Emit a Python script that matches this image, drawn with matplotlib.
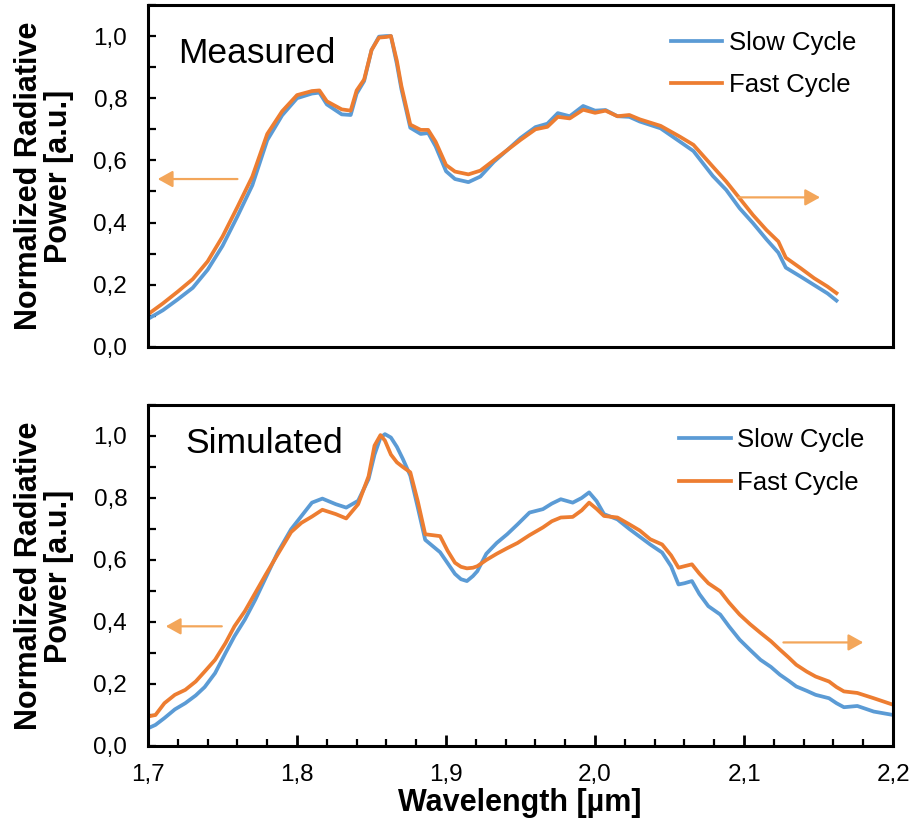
import numpy as np
import matplotlib
matplotlib.use('Agg')
import matplotlib.pyplot as plt
from matplotlib.ticker import MultipleLocator, FuncFormatter

plt.rcParams['font.family'] = ['Liberation Sans', 'DejaVu Sans']

# measured spectra
wl_meas = [1.700, 1.710, 1.720, 1.730, 1.740, 1.750, 1.760, 1.770, 1.780, 1.790,
           1.800, 1.810, 1.815, 1.820, 1.830, 1.836, 1.840, 1.845, 1.850, 1.855,
           1.860, 1.863, 1.867, 1.870, 1.876, 1.883, 1.888, 1.893, 1.900, 1.906,
           1.915, 1.923, 1.932, 1.941, 1.950, 1.960, 1.968, 1.975, 1.983, 1.992,
           2.000, 2.007, 2.015, 2.023, 2.030, 2.044, 2.057, 2.066, 2.079, 2.088,
           2.097, 2.106, 2.115, 2.123, 2.128, 2.138, 2.147, 2.156, 2.162]
meas_slow = [0.090, 0.118, 0.153, 0.190, 0.248, 0.325, 0.420, 0.520, 0.665, 0.745,
             0.800, 0.815, 0.818, 0.780, 0.748, 0.746, 0.815, 0.855, 0.955, 0.998,
             1.000, 1.000, 0.910, 0.830, 0.705, 0.685, 0.688, 0.645, 0.565, 0.540,
             0.530, 0.548, 0.595, 0.633, 0.672, 0.707, 0.718, 0.752, 0.742, 0.775,
             0.760, 0.762, 0.742, 0.740, 0.725, 0.703, 0.660, 0.630, 0.550, 0.505,
             0.446, 0.398, 0.346, 0.303, 0.255, 0.226, 0.199, 0.172, 0.149]
meas_fast = [0.105, 0.140, 0.178, 0.218, 0.275, 0.355, 0.450, 0.548, 0.685, 0.758,
             0.810, 0.823, 0.825, 0.790, 0.764, 0.760, 0.825, 0.860, 0.955, 0.995,
             0.997, 1.000, 0.920, 0.840, 0.715, 0.698, 0.698, 0.660, 0.585, 0.564,
             0.555, 0.567, 0.600, 0.633, 0.666, 0.700, 0.708, 0.740, 0.735, 0.763,
             0.753, 0.760, 0.742, 0.746, 0.732, 0.711, 0.676, 0.650, 0.580, 0.532,
             0.478, 0.424, 0.376, 0.339, 0.287, 0.253, 0.221, 0.194, 0.173]

# simulated spectra
wl_sim = [1.700, 1.705, 1.711, 1.718, 1.725, 1.732, 1.738, 1.745, 1.752, 1.758,
          1.765, 1.772, 1.779, 1.787, 1.796, 1.803, 1.810, 1.817, 1.826, 1.833,
          1.841, 1.848, 1.852, 1.856, 1.859, 1.863, 1.867, 1.871, 1.876, 1.881,
          1.886, 1.891, 1.896, 1.901, 1.906, 1.910, 1.914, 1.918, 1.921, 1.927,
          1.934, 1.941, 1.948, 1.956, 1.965, 1.971, 1.977, 1.985, 1.991, 1.996,
          2.001, 2.006, 2.015, 2.023, 2.030, 2.037, 2.045, 2.051, 2.056, 2.060,
          2.065, 2.070, 2.076, 2.084, 2.090, 2.097, 2.104, 2.111, 2.118, 2.124,
          2.130, 2.135, 2.142, 2.148, 2.157, 2.162, 2.167, 2.176, 2.187, 2.200]
sim_slow = [0.057, 0.068, 0.090, 0.118, 0.138, 0.163, 0.190, 0.235, 0.300, 0.354,
            0.408, 0.472, 0.543, 0.624, 0.699, 0.742, 0.785, 0.798, 0.780, 0.769,
            0.791, 0.861, 0.940, 0.995, 1.006, 0.995, 0.965, 0.926, 0.872, 0.770,
            0.665, 0.645, 0.625, 0.590, 0.555, 0.538, 0.532, 0.548, 0.564, 0.620,
            0.655, 0.683, 0.715, 0.753, 0.764, 0.782, 0.796, 0.785, 0.800, 0.818,
            0.790, 0.748, 0.731, 0.700, 0.675, 0.650, 0.624, 0.580, 0.521, 0.525,
            0.532, 0.490, 0.451, 0.424, 0.385, 0.343, 0.310, 0.278, 0.255, 0.230,
            0.210, 0.192, 0.178, 0.165, 0.154, 0.138, 0.125, 0.129, 0.111, 0.100]
sim_fast = [0.095, 0.100, 0.138, 0.165, 0.181, 0.208, 0.240, 0.278, 0.332, 0.386,
            0.435, 0.494, 0.553, 0.618, 0.690, 0.720, 0.740, 0.762, 0.748, 0.734,
            0.780, 0.870, 0.969, 1.003, 0.985, 0.940, 0.915, 0.900, 0.883, 0.790,
            0.683, 0.680, 0.677, 0.630, 0.591, 0.578, 0.573, 0.575, 0.580, 0.600,
            0.620, 0.638, 0.655, 0.680, 0.705, 0.725, 0.737, 0.739, 0.760, 0.785,
            0.765, 0.742, 0.737, 0.715, 0.695, 0.667, 0.650, 0.615, 0.575, 0.580,
            0.586, 0.556, 0.525, 0.499, 0.462, 0.424, 0.393, 0.365, 0.338, 0.311,
            0.285, 0.262, 0.240, 0.224, 0.208, 0.190, 0.176, 0.171, 0.154, 0.133]

blue = '#5B9BD5'
orange = '#ED7D31'
arrow_c = '#F3A65A'

fig = plt.figure(figsize=(9.16, 8.24), dpi=100)
ax1 = fig.add_axes([0.1616, 0.579, 0.8134, 0.415])
ax2 = fig.add_axes([0.1616, 0.0947, 0.8134, 0.4138])

comma = FuncFormatter(lambda v, p: f"{v:.1f}".replace('.', ','))


def style(ax):
    ax.set_xlim(1.7, 2.2)
    ax.set_ylim(0, 1.1)
    for s in ax.spines.values():
        s.set_linewidth(2.2)
        s.set_color('black')
    ax.yaxis.set_major_locator(MultipleLocator(0.2))
    ax.yaxis.set_minor_locator(MultipleLocator(0.1))
    ax.yaxis.set_major_formatter(comma)
    ax.tick_params(axis='y', which='both', direction='in', length=6, width=1.6,
                   labelsize=17.5, pad=15)


def arrow(ax, x0, x1, y):
    ax.annotate('', xy=(x1, y), xytext=(x0, y),
                arrowprops=dict(arrowstyle='-|>,head_length=0.45,head_width=0.25',
                                color=arrow_c, lw=1.6, mutation_scale=20,
                                shrinkA=0, shrinkB=0))


# top: measured
ax1.plot(wl_meas, meas_slow, color=blue, lw=2.7, label='Slow Cycle')
ax1.plot(wl_meas, meas_fast, color=orange, lw=2.7, label='Fast Cycle')
style(ax1)
ax1.tick_params(axis='x', which='both', bottom=False, labelbottom=False)
ax1.text(0.04, 0.829, 'Measured', transform=ax1.transAxes, fontsize=25.5,
         va='baseline')
ax1.legend(loc='upper left', bbox_to_anchor=(0.702, 0.923), frameon=False,
           fontsize=18.5, handlelength=2.0, handletextpad=0.25,
           labelspacing=0.68, borderpad=0, borderaxespad=0)
arrow(ax1, 1.760, 1.7065, 0.540)
arrow(ax1, 2.0962, 2.151, 0.481)

# bottom: simulated
ax2.plot(wl_sim, sim_slow, color=blue, lw=2.7, label='Slow Cycle')
ax2.plot(wl_sim, sim_fast, color=orange, lw=2.7, label='Fast Cycle')
style(ax2)
ax2.xaxis.set_major_locator(MultipleLocator(0.1))
ax2.xaxis.set_minor_locator(MultipleLocator(0.02))
ax2.xaxis.set_major_formatter(comma)
ax2.tick_params(axis='x', which='major', direction='in', length=8, width=2.0,
                labelsize=17.5, pad=13)
ax2.tick_params(axis='x', which='minor', direction='in', length=5, width=1.6)
ax2.text(0.0497, 0.858, 'Simulated', transform=ax2.transAxes, fontsize=25.5,
         va='baseline')
ax2.legend(loc='upper left', bbox_to_anchor=(0.713, 0.932), frameon=False,
           fontsize=18.5, handlelength=2.0, handletextpad=0.25,
           labelspacing=0.72, borderpad=0, borderaxespad=0)
arrow(ax2, 1.7495, 1.7119, 0.386)
arrow(ax2, 2.1264, 2.180, 0.334)

ylab = 'Normalized Radiative\nPower [a.u.]'
fig.text(0.048, 1 - 176 / 824, ylab, rotation=90, ha='center', va='center',
         multialignment='center', fontsize=22, fontweight='bold', linespacing=1.0)
fig.text(0.048, 1 - 576 / 824, ylab, rotation=90, ha='center', va='center',
         multialignment='center', fontsize=22, fontweight='bold', linespacing=1.0)
fig.text(520 / 916, 1 - 803 / 824, 'Wavelength [µm]', ha='center', va='center',
         fontsize=22, fontweight='bold')

fig.savefig('out.png', dpi=100)
